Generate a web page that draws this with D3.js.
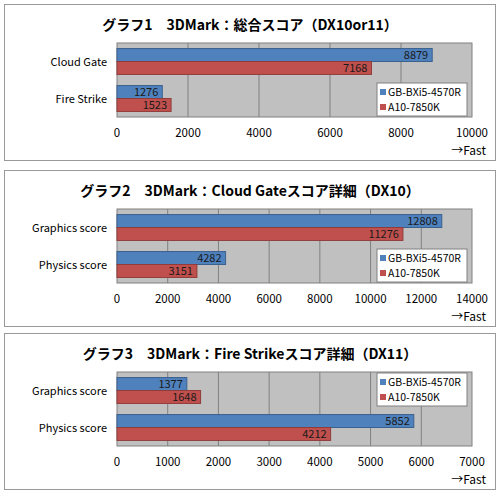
<!DOCTYPE html><html><head><meta charset="utf-8"><script src="https://cdn.jsdelivr.net/npm/d3@7"></script>
<style>body{margin:0;background:#fff}text{font-family:"Noto Sans CJK JP","Liberation Sans",sans-serif}</style></head><body><svg width="500" height="496"></svg><script>
const series=["GB-BXi5-4570R","A10-7850K"];
const colors=["#4f81bd","#c0504d"];
const titles=["グラフ1　3DMark：総合スコア（DX10or11）","グラフ2　3DMark：Cloud Gateスコア詳細（DX10）","グラフ3　3DMark：Fire Strikeスコア詳細（DX11）"];
const cats1=["Cloud Gate","Fire Strike"], vals1=[[8879,7168],[1276,1523]], ticks1=[0,2000,4000,6000,8000,10000];
const cats2=["Graphics score","Physics score"], vals2=[[12808,11276],[4282,3151]], ticks2=[0,2000,4000,6000,8000,10000,12000,14000];
const cats3=["Graphics score","Physics score"], vals3=[[1377,1648],[5852,4212]], ticks3=[0,1000,2000,3000,4000,5000,6000,7000];
const panels=[{t:titles[0],c:cats1,v:vals1,k:ticks1,top:4,leg:"bottom"},{t:titles[1],c:cats2,v:vals2,k:ticks2,top:170,leg:"bottom"},{t:titles[2],c:cats3,v:vals3,k:ticks3,top:333,leg:"top"}];
const svg=d3.select("svg");
panels.forEach(p=>{
 const g=svg.append("g").attr("transform",`translate(0,${p.top})`);
 g.append("rect").attr("x",4.5).attr("y",0.5).attr("width",491).attr("height",156).attr("fill","#fff").attr("stroke","#999");
 g.append("text").attr("x",250).attr("y",26).attr("text-anchor","middle").attr("font-size",14).attr("font-weight","bold").text(p.t);
 const x=d3.scaleLinear().domain([0,p.k[p.k.length-1]]).range([117,472]);
 const y=d3.scaleBand().domain(p.c).range([39,113]).paddingInner(0.3).paddingOuter(0.15);
 const y2=d3.scaleBand().domain([0,1]).range([0,y.bandwidth()]);
 g.append("rect").attr("x",117).attr("y",39).attr("width",355).attr("height",74).attr("fill","#c0c0c0").attr("stroke","#808080");
 g.selectAll(".gl").data(p.k.slice(1,-1)).join("line").attr("x1",d=>x(d)).attr("x2",d=>x(d)).attr("y1",39).attr("y2",113).attr("stroke","#808080");
 p.c.forEach((c,i)=>{
  p.v[i].forEach((v,j)=>{
   const yy=y(c)+y2(j);
   g.append("rect").attr("x",x(0)).attr("y",yy).attr("width",x(v)-x(0)).attr("height",y2.bandwidth()).attr("fill",colors[j]).attr("stroke",d3.color(colors[j]).darker(0.8));
   g.append("text").attr("x",x(v)-4).attr("y",yy+y2.bandwidth()/2+4).attr("text-anchor","end").attr("font-size",11).attr("font-family","Liberation Sans").attr("fill","#1a1a1a").text(v);
  });
  g.append("text").attr("x",107).attr("y",y(c)+y.bandwidth()/2+4).attr("text-anchor","end").attr("font-size",11).text(c);
 });
 g.selectAll(".tk").data(p.k).join("text").attr("x",d=>x(d)).attr("y",133).attr("text-anchor","middle").attr("font-size",11.5).attr("font-family","Liberation Sans").text(d=>d);
 g.append("text").attr("x",486).attr("y",151).attr("text-anchor","end").attr("font-size",12).attr("font-family","Liberation Sans").text("→Fast");
 const ly=p.leg=="top"?40:79;
 const lg=g.append("g").attr("transform",`translate(377,${ly})`);
 lg.append("rect").attr("width",90).attr("height",33).attr("fill","#fff").attr("stroke","#808080");
 series.forEach((s,j)=>{
  lg.append("rect").attr("x",3).attr("y",6+j*15).attr("width",6).attr("height",6).attr("fill",colors[j]);
  lg.append("text").attr("x",11).attr("y",12.5+j*15).attr("font-size",10.5).attr("font-family","Liberation Sans").text(s);
 });
});
</script></body></html>
